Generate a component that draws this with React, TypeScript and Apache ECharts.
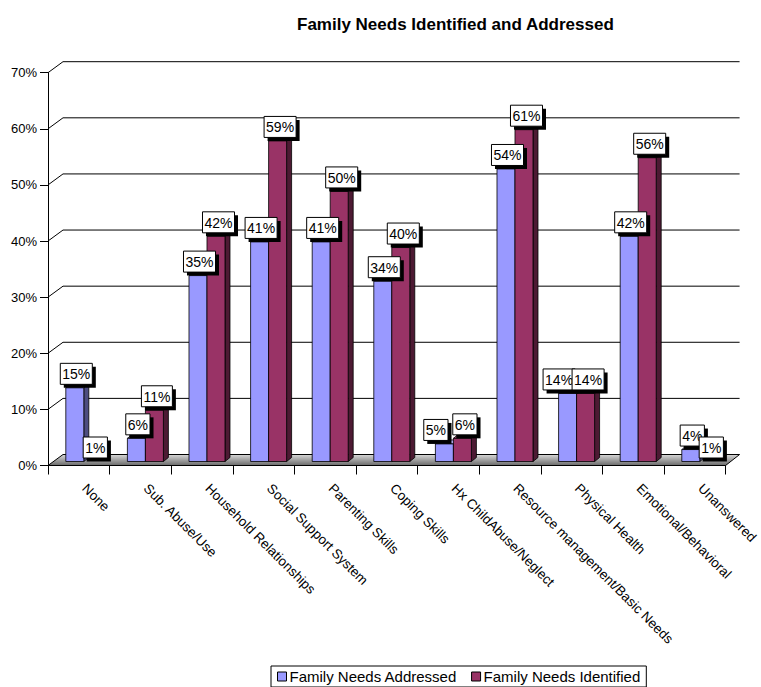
import React, { useEffect, useRef } from "react";
import * as echarts from "echarts";

const categories = [
  "None",
  "Sub. Abuse/Use",
  "Household Relationships",
  "Social Support System",
  "Parenting Skills",
  "Coping Skills",
  "Hx ChildAbuse/Neglect",
  "Resource management/Basic Needs",
  "Physical Health",
  "Emotional/Behavioral",
  "Unanswered",
];
const addressed = [15, 6, 35, 41, 41, 34, 5, 54, 14, 42, 4];
const identified = [1, 11, 42, 59, 50, 40, 6, 61, 14, 56, 1];
const gridValues = [0, 10, 20, 30, 40, 50, 60, 70];
const seriesNames = ["Family Needs Addressed", "Family Needs Identified"];

const FONT = "Liberation Sans, Arial, Helvetica, sans-serif";
const BLUE = "#9999FF";
const BLUE_SIDE = "#4D4D80";
const BLUE_TOP = "#B8B8FF";
const RED = "#993366";
const RED_SIDE = "#4D1A33";
const RED_TOP = "#B35C85";

// 3D geometry
const DX = 15; // back wall offset x
const DY = -11; // back wall offset y
const BAR_W = 18;
const SIDE_DX = 5;
const SIDE_DY = -4;
const BASE_UP = 4;
const TOP_SHIFT = 6.5;

let ctx: CanvasRenderingContext2D | null = null;
function textWidth(t: string, font: string) {
  if (!ctx) ctx = document.createElement("canvas").getContext("2d");
  if (!ctx) return t.length * 8;
  ctx.font = font;
  return ctx.measureText(t).width;
}

function barGeom(api: any, i: number, v: number, s: number) {
  const c = api.coord([i, 0]);
  const base = c[1] - BASE_UP;
  let top = api.coord([i, v])[1] + TOP_SHIFT;
  if (top > base) top = base;
  const xL = c[0] - 13 + s * BAR_W;
  const xR = xL + BAR_W;
  return { xL, xR, top, base };
}

function makeBarRender(s: number) {
  const face = s === 0 ? BLUE : RED;
  const side = s === 0 ? BLUE_SIDE : RED_SIDE;
  const topC = s === 0 ? BLUE_TOP : RED_TOP;
  return (params: any, api: any) => {
    const i = api.value(0);
    const v = api.value(1);
    const g = barGeom(api, i, v, s);
    if (g.base - g.top < 0.5) return { type: "group", children: [] };
    const st = { stroke: "#000", lineWidth: 0.8 };
    return {
      type: "group",
      children: [
        {
          type: "polygon",
          shape: {
            points: [
              [g.xR, g.top],
              [g.xR + SIDE_DX, g.top + SIDE_DY],
              [g.xR + SIDE_DX, g.base + SIDE_DY],
              [g.xR, g.base],
            ],
          },
          style: { fill: side, ...st },
        },
        {
          type: "polygon",
          shape: {
            points: [
              [g.xL, g.top],
              [g.xL + SIDE_DX, g.top + SIDE_DY],
              [g.xR + SIDE_DX, g.top + SIDE_DY],
              [g.xR, g.top],
            ],
          },
          style: { fill: topC, ...st },
        },
        {
          type: "rect",
          shape: { x: g.xL, y: g.top, width: BAR_W, height: g.base - g.top },
          style: { fill: face, ...st },
        },
      ],
    };
  };
}

const labelFont = `14px ${FONT}`;

function labelRender(params: any, api: any) {
  const i = api.value(0);
  const v = api.value(1);
  const s = api.value(2);
  const g = barGeom(api, i, v, s);
  let cx = (g.xL + g.xR) / 2 + 1.5;
  if (s === 0) {
    // when both labels of a group sit at the same height, nudge the first one left
    const other = barGeom(api, i, identified[i], 1);
    if (Math.abs(other.top - g.top) < 6) cx -= 10;
  } else {
    cx += 1;
  }
  const yb = g.top - 3.5;
  const txt = v + "%";
  const w = textWidth(txt, labelFont) + 4;
  const h = 21;
  return {
    type: "group",
    children: [
      {
        type: "rect",
        shape: { x: cx - w / 2 + 3.5, y: yb - h + 3.5, width: w, height: h },
        style: { fill: "#000" },
      },
      {
        type: "rect",
        shape: { x: cx - w / 2, y: yb - h, width: w, height: h },
        style: { fill: "#fff", stroke: "#000", lineWidth: 1 },
      },
      {
        type: "text",
        x: cx,
        y: yb - h / 2 + 0.5,
        style: {
          text: txt,
          font: labelFont,
          fill: "#000",
          align: "center",
          verticalAlign: "middle",
        },
      },
    ],
  };
}

function wallRender(params: any, api: any) {
  const v = api.value(1);
  const cs = params.coordSys;
  const x0 = cs.x;
  const w = cs.width;
  const y = api.coord([0, v])[1];
  if (v === 0) {
    return {
      type: "polygon",
      shape: {
        points: [
          [x0, y],
          [x0 + DX, y + DY],
          [x0 + w + DX - 1, y + DY],
          [x0 + w, y],
        ],
      },
      style: {
        fill: new echarts.graphic.LinearGradient(0, 0, 0, 1, [
          { offset: 0, color: "#d8d8d8" },
          { offset: 1, color: "#6a6a6a" },
        ]),
        stroke: "#000",
        lineWidth: 1,
      },
    };
  }
  return {
    type: "polyline",
    shape: {
      points: [
        [x0, y],
        [x0 + DX, y + DY],
        [x0 + w + DX - 1, y + DY],
      ],
    },
    style: { fill: "none", stroke: "#000", lineWidth: 1 },
  };
}

export default function App() {
  const ref = useRef<HTMLDivElement>(null);
  useEffect(() => {
    if (!ref.current) return;
    const chart = echarts.init(ref.current, null, { renderer: "svg" });
    const labelData: number[][] = [];
    categories.forEach((_, i) => {
      labelData.push([i, addressed[i], 0]);
      labelData.push([i, identified[i], 1]);
    });
    chart.setOption({
      animation: false,
      backgroundColor: "#fff",
      title: {
        text: "Family Needs Identified and Addressed",
        left: 292,
        top: 11,
        textStyle: { fontFamily: FONT, fontSize: 17, fontWeight: "bold", color: "#000" },
      },
      legend: {
        data: seriesNames,
        left: 271,
        top: 666,
        orient: "horizontal",
        icon: "rect",
        itemWidth: 9,
        itemHeight: 9,
        itemGap: 14,
        padding: [3, 6, 3, 6],
        borderColor: "#000",
        borderWidth: 1,
        borderRadius: 0,
        itemStyle: { borderColor: "#000", borderWidth: 1 },
        textStyle: { fontFamily: FONT, fontSize: 15, color: "#000", padding: [0, 0, 0, -2] },
      },
      grid: { left: 48, right: 33, top: 72.7, bottom: 221.5, containLabel: false },
      xAxis: {
        type: "category",
        data: categories,
        boundaryGap: true,
        axisLine: { show: true, lineStyle: { color: "#000", width: 1 } },
        axisTick: { show: true, length: 9, interval: 0, lineStyle: { color: "#000" } },
        axisLabel: {
          interval: 0,
          rotate: -45,
          margin: 15,
          padding: [0, 0, 7, 8],
          fontFamily: FONT,
          fontSize: 13.5,
          color: "#000",
        },
        splitLine: { show: false },
      },
      yAxis: {
        type: "value",
        min: 0,
        max: 70,
        interval: 10,
        axisLine: { show: true, lineStyle: { color: "#000", width: 1 } },
        axisTick: { show: true, length: 8, lineStyle: { color: "#000" } },
        axisLabel: {
          formatter: "{value}%",
          margin: 11,
          fontFamily: FONT,
          fontSize: 13,
          color: "#000",
        },
        splitLine: { show: false },
      },
      series: [
        {
          name: "wall",
          type: "custom",
          renderItem: wallRender,
          data: gridValues.map((v) => [0, v]),
          encode: { x: 0, y: 1 },
          silent: true,
          z: 1,
        },
        {
          name: seriesNames[0],
          type: "custom",
          renderItem: makeBarRender(0),
          data: addressed.map((v, i) => [i, v]),
          encode: { x: 0, y: 1 },
          itemStyle: { color: BLUE },
          z: 2,
        },
        {
          name: seriesNames[1],
          type: "custom",
          renderItem: makeBarRender(1),
          data: identified.map((v, i) => [i, v]),
          encode: { x: 0, y: 1 },
          itemStyle: { color: RED },
          z: 3,
        },
        {
          name: "labels",
          type: "custom",
          renderItem: labelRender,
          data: labelData,
          encode: { x: 0, y: 1 },
          silent: true,
          z: 5,
        },
      ],
    });
    return () => chart.dispose();
  }, []);
  return (
    <div
      ref={ref}
      style={{ position: "absolute", left: 0, top: 0, width: 761, height: 687 }}
    />
  );
}
